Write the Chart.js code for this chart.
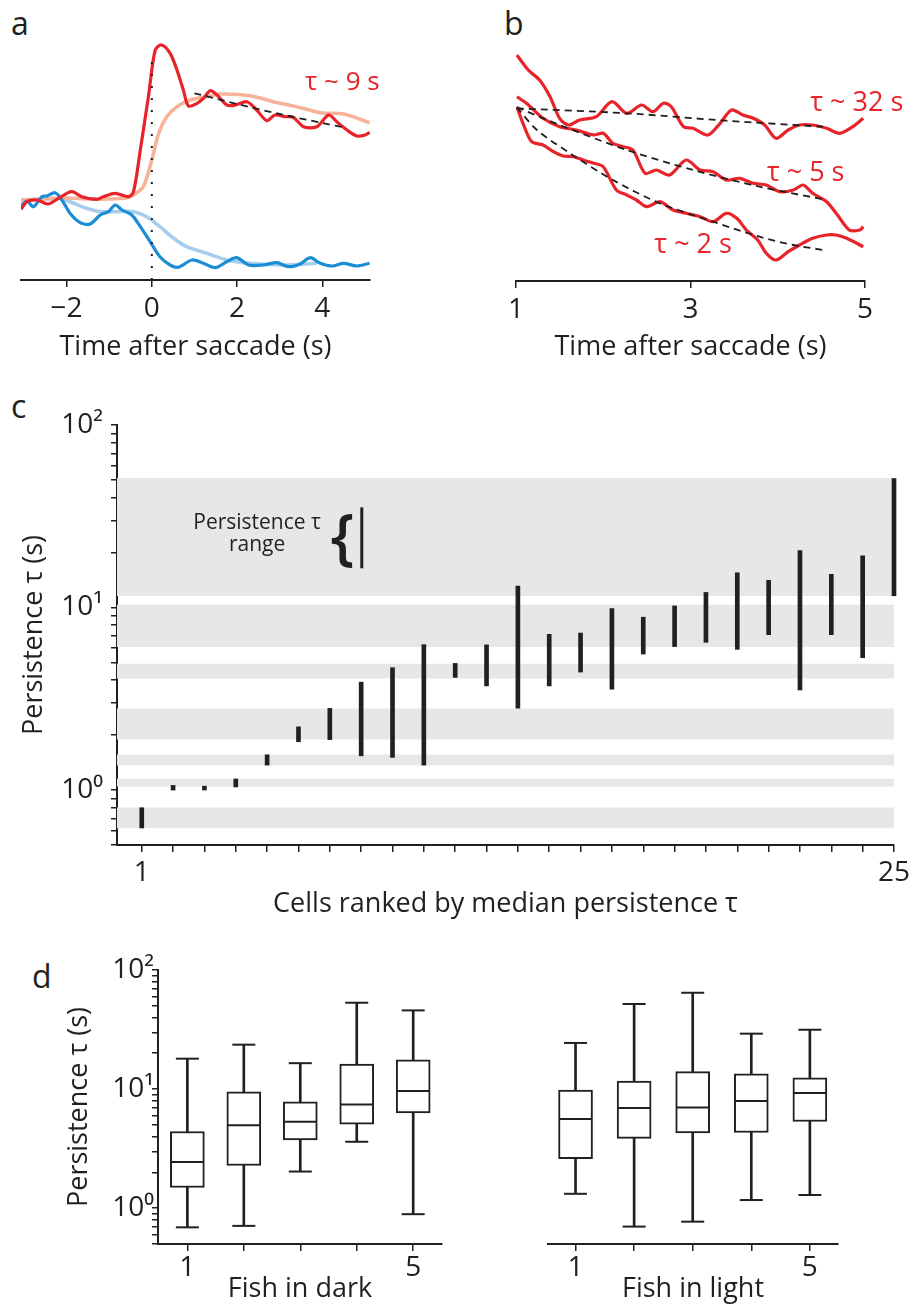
<!DOCTYPE html>
<html>
<head>
<meta charset="utf-8">
<script src="https://cdn.jsdelivr.net/npm/chart.js@4.4.1/dist/chart.umd.min.js"></script>
<style>
  body { margin: 0; background: #fff; }
  #fig { position: relative; width: 915px; height: 1306px; overflow: hidden; }
  #fig canvas { position: absolute; }
  .lbl { position: absolute; font: 32px 'Open Sans', sans-serif; line-height: 32px; color: #231f20; }
</style>
</head>
<body>
<div id="fig">
  <div class="lbl" style="left:11px;top:7px">a</div>
  <div class="lbl" style="left:504px;top:7px">b</div>
  <div class="lbl" style="left:11px;top:390px">c</div>
  <div class="lbl" style="left:32px;top:960px">d</div>
  <canvas id="chartA" width="457" height="380" style="left:0;top:0"></canvas>
  <canvas id="chartB" width="455" height="380" style="left:460px;top:0"></canvas>
  <canvas id="chartC" width="915" height="545" style="left:0;top:390px"></canvas>
  <canvas id="chartD1" width="460" height="371" style="left:0;top:935px"></canvas>
  <canvas id="chartD2" width="455" height="371" style="left:460px;top:935px"></canvas>
</div>
<script>
// ---- panel a: responses around a saccade (arbitrary units) ----
const aRedT = [-3.07,-2.93,-2.70,-2.43,-2.19,-1.88,-1.64,-1.29,-1.14,-0.86,-0.55,-0.43,-0.27,-0.08,0.08,0.23,0.43,0.59,0.74,0.86,1.06,1.21,1.37,1.53,1.76,1.96,2.23,2.46,2.70,2.89,3.13,3.32,3.56,3.87,4.15,4.34,4.58,4.81,5.01,5.11];
const aRedV = [70.7,78.3,80,76,81.7,88.3,83.3,80.7,83.3,86.7,83.3,88.3,130,183.3,230,235,226.7,210,190,174,176.7,181.7,189.3,185,175,175,178.3,170,159.3,165,163.3,162.7,153.3,153.3,165,158.3,150,144,145,147.7];
const aSalmonT = [-3.07,-2.5,-2.0,-1.5,-1.0,-0.6,-0.43,-0.2,0,0.16,0.35,0.59,0.9,1.29,1.6,2.31,2.85,3.4,3.95,4.5,5.11];
const aSalmonV = [80,81,82,81,81,82,85,93.3,120,146.7,163.3,173.3,180,183.3,186,184.3,178.3,173.3,167.3,166,157.3];
const aBlueT = [-3.07,-2.93,-2.78,-2.58,-2.46,-2.27,-2.11,-1.92,-1.68,-1.45,-1.21,-1.02,-0.86,-0.70,-0.47,-0.27,-0.04,0.19,0.43,0.62,0.94,1.21,1.49,1.76,1.99,2.27,2.62,2.93,3.21,3.48,3.72,3.95,4.23,4.5,4.81,5.11];
const aBlueV = [74,79,73.3,83.3,84,87.3,80,66.7,57.3,56,65,68.3,75,70,65,53.3,38.3,23.3,15,12.7,20,16.7,12.3,18.3,22.3,15,15,17.3,13.3,16,22.3,16.7,14,16.7,14,16.7];
const aLightBlueT = [-3.07,-2.6,-2.2,-1.92,-1.53,-1.21,-0.82,-0.43,-0.12,0.19,0.51,0.82,1.29,1.76,2.31,3.09,3.87];
const aLightBlueV = [80,81,81.7,78.3,71.7,68.3,68.3,68.3,63.3,53.3,41.7,33.3,26.7,20,16.7,15,16.7];
const aFitT = [1.0,2.0,3.0,4.0,4.5];
const aFitV = [186.7,176,166,157,152.7];
const aSaccadeT = [0, 0];
const aSaccadeV = [0, 222];
const aTicks = [-2, 0, 2, 4];

// ---- panel b: decays after saccade ----
const bSlowT = [1.01,1.14,1.27,1.39,1.50,1.60,1.73,1.92,2.10,2.27,2.44,2.57,2.69,2.78,2.92,3.03,3.20,3.34,3.47,3.60,3.72,3.85,3.98,4.12,4.25,4.40,4.56,4.71,4.86,4.98];
const bSlowV = [226,211,201,184.3,162.7,156,161,164.3,179.3,167.7,176,169.3,177.7,174.3,154.3,152.7,146,157.7,171,166,162.7,156,142.7,151,156,156,152.7,147.7,154.3,162.7];
const bMidT = [1.01,1.12,1.31,1.50,1.69,1.89,2.00,2.11,2.23,2.34,2.48,2.61,2.76,2.95,3.11,3.26,3.41,3.56,3.72,3.87,4.02,4.18,4.29,4.40,4.56,4.67,4.82,4.94,4.98];
const bMidV = [184.3,177.7,162.7,154.3,151,146,147.7,137.7,134.3,131,107.7,111,106,121,111,109.3,101,102.7,97.7,96,89.3,91,96,87.7,79.3,67.7,51,51,54.3];
const bFastT = [1.01,1.08,1.18,1.31,1.43,1.54,1.66,1.77,1.89,2.00,2.15,2.27,2.38,2.50,2.65,2.80,2.95,3.11,3.26,3.41,3.53,3.64,3.77,3.87,3.98,4.12,4.25,4.40,4.56,4.67,4.79,4.98];
const bFastV = [174.3,157.7,139.3,136,129.3,125,124.3,121,117.7,114.3,91,86,81,74.3,79.3,71,67.7,64.3,59.3,67.7,62.7,51,41,27.7,21,29.3,36,42.7,46,46,42.7,34.3];
const bFitSlowT = [1.01,2.27,3.41,4.52];
const bFitSlowV = [172.7,167.7,160.3,154.3];
const bFitMidT = [1.01,1.50,2.27,3.03,3.79,4.52];
const bFitMidV = [173.7,156,131,111,94.3,81.7];
const bFitFastT = [1.01,1.24,1.62,2.11,2.65,3.26,3.79,4.18,4.52];
const bFitFastV = [173.7,151,127.7,101,77.7,59.3,44.3,36,31];
const bTicks = [1, 3, 5];

// ---- panel c: persistence range per cell ----
const cellRank = [1,2,3,4,5,6,7,8,9,10,11,12,13,14,15,16,17,18,19,20,21,22,23,24,25];
const cellLo = [0.62,1.0,1.0,1.04,1.37,1.84,1.89,1.54,1.51,1.37,4.14,3.72,2.81,3.72,4.43,3.57,5.56,6.11,6.45,5.9,7.1,3.54,7.1,5.31,11.6];
const cellHi = [0.80,1.06,1.05,1.15,1.56,2.22,2.8,3.9,4.68,6.26,4.94,6.24,13.1,7.13,7.25,9.87,8.85,10.2,12.1,15.5,14.1,20.5,15.2,19.2,50.9];
const bandLo = [11.6,6.1,4.1,1.9,1.37,1.05,0.62];
const bandHi = [51,10.3,4.9,2.79,1.56,1.15,0.80];
const logTicks = [0.5,0.6,0.7,0.8,0.9,1,2,3,4,5,6,7,8,9,10,20,30,40,50,60,70,80,90,100];

// ---- panel d: persistence per fish ----
const fishNo = [1,2,3,4,5];
const darkMin = [0.69,0.71,2.03,3.61,0.89];
const darkQ1 = [1.49,2.28,3.75,5.08,6.32];
const darkMed = [2.44,4.98,5.31,7.42,9.62];
const darkQ3 = [4.40,9.49,7.82,16.2,17.6];
const darkMax = [18.0,23.6,16.5,53.1,45.8];
const lightMin = [1.32,0.70,0.77,1.17,1.29];
const lightQ1 = [2.60,3.85,4.29,4.32,5.34];
const lightMed = [5.60,6.92,7.0,7.93,9.25];
const lightQ3 = [9.81,11.7,14.0,13.4,12.4];
const lightMax = [24.4,51.8,64.4,29.2,31.5];

const INK = '#231f20';
const RED = '#e8232a';
const FONT = "'Open Sans', 'DejaVu Sans', sans-serif";

Chart.defaults.font.family = FONT;
Chart.defaults.color = INK;
Chart.defaults.animation = false;
Chart.defaults.events = [];
Chart.defaults.plugins.legend.display = false;
Chart.defaults.plugins.tooltip.enabled = false;

// text labels and the little legend glyph, placed in data coordinates
const annotate = {
  id: 'annotate',
  afterDatasetsDraw(chart, args, opts) {
    const ctx = chart.ctx;
    const sx = chart.scales.x, sy = chart.scales.y;
    (opts.items || []).forEach(it => {
      const px = sx.getPixelForValue(it.x);
      const py = sy.getPixelForValue(it.y);
      ctx.save();
      if (it.text) {
        ctx.font = it.font;
        ctx.fillStyle = it.color || INK;
        ctx.textAlign = 'center';
        ctx.textBaseline = 'middle';
        ctx.fillText(it.text, px, py);
      } else if (it.to) {
        ctx.strokeStyle = INK;
        ctx.lineWidth = it.width;
        ctx.beginPath();
        ctx.moveTo(px, py);
        ctx.lineTo(px, sy.getPixelForValue(it.to));
        ctx.stroke();
      }
      ctx.restore();
    });
  }
};

function pts(xs, ys) {
  return xs.map((x, i) => ({ x: x, y: ys[i] }));
}

function line(xs, ys, color, width, extra) {
  return Object.assign({
    type: 'line', data: pts(xs, ys), borderColor: color, borderWidth: width,
    pointRadius: 0, tension: 0.3, fill: false
  }, extra || {});
}

function bottomAxis(min, max, tickVals, labelFn, title, height, tickPad, titlePad) {
  return {
    type: 'linear', min: min, max: max, offset: false,
    afterBuildTicks: s => { s.ticks = tickVals.map(v => ({ value: v })); },
    afterFit: s => { s.height = height; },
    ticks: { autoSkip: false, maxRotation: 0, padding: tickPad, font: { size: 28 }, color: INK, callback: labelFn },
    grid: { display: true, drawOnChartArea: false, drawTicks: true, tickLength: 7, color: INK, lineWidth: 1.5, offset: false },
    border: { display: true, color: INK, width: 2 },
    title: { display: true, text: title, font: { size: 27 }, color: INK, padding: { top: 0, bottom: titlePad } }
  };
}

function logAxis(width, show, titlePad, tickPad) {
  return {
    type: 'logarithmic', min: 0.5, max: 100, display: show,
    afterBuildTicks: s => { s.ticks = logTicks.map(v => ({ value: v })); },
    afterFit: s => { s.width = width; },
    ticks: {
      autoSkip: false, padding: tickPad, font: { size: 28 }, color: INK,
      callback: v => v === 1 ? '10⁰' : v === 10 ? '10¹' : v === 100 ? '10²' : ''
    },
    grid: { display: true, drawOnChartArea: false, drawTicks: true, tickLength: 6, color: INK, lineWidth: 1.5 },
    border: { display: true, color: INK, width: 2 },
    title: { display: true, text: 'Persistence τ (s)', font: { size: 27 }, color: INK, padding: { top: titlePad, bottom: 0 } }
  };
}

// ---- panel a ----
new Chart(document.getElementById('chartA'), {
  type: 'line',
  data: {
    datasets: [
      line(aSaccadeT, aSaccadeV, INK, 2, { borderDash: [2, 10], tension: 0 }),
      line(aFitT, aFitV, INK, 1.8, { borderDash: [7, 5] }),
      line(aRedT, aRedV, RED, 3.2),
      line(aBlueT, aBlueV, '#1a8dd5', 3.2),
      line(aSalmonT, aSalmonV, '#f7b39a', 3.6),
      line(aLightBlueT, aLightBlueV, '#a7cdee', 3.6)
    ]
  },
  options: {
    responsive: false,
    layout: { padding: { left: 21, right: 87, top: 20, bottom: 0 } },
    scales: {
      x: bottomAxis(-3.07, 5.12, aTicks, v => String(v).replace('-', '−'), 'Time after saccade (s)', 100, 5, 16),
      y: { type: 'linear', min: 0, max: 260, display: false }
    },
    plugins: { annotate: { items: [{ text: 'τ ~ 9 s', x: 4.47, y: 197, color: RED, font: '26px ' + FONT }] } }
  },
  plugins: [annotate]
});

// ---- panel b ----
new Chart(document.getElementById('chartB'), {
  type: 'line',
  data: {
    datasets: [
      line(bFitSlowT, bFitSlowV, INK, 1.8, { borderDash: [7, 5] }),
      line(bFitMidT, bFitMidV, INK, 1.8, { borderDash: [7, 5] }),
      line(bFitFastT, bFitFastV, INK, 1.8, { borderDash: [7, 5] }),
      line(bSlowT, bSlowV, RED, 3.2),
      line(bMidT, bMidV, RED, 3.2),
      line(bFastT, bFastV, RED, 3.2)
    ]
  },
  options: {
    responsive: false,
    layout: { padding: { left: 56, right: 50, top: 21, bottom: 0 } },
    scales: {
      x: bottomAxis(1, 5, bTicks, v => String(v), 'Time after saccade (s)', 99, 5, 16),
      y: { type: 'linear', min: 0, max: 260, display: false }
    },
    plugins: { annotate: { items: [
      { text: 'τ ~ 32 s', x: 4.906, y: 178, color: RED, font: '27px ' + FONT },
      { text: 'τ ~ 5 s', x: 4.32, y: 108, color: RED, font: '27px ' + FONT },
      { text: 'τ ~ 2 s', x: 3.03, y: 36, color: RED, font: '27px ' + FONT }
    ] } }
  },
  plugins: [annotate]
});

// ---- panel c ----
const bandSets = bandLo.map((lo, i) => ({
  type: 'bar', xAxisID: 'xb', data: [[lo, bandHi[i]]], backgroundColor: '#e6e7e8',
  barPercentage: 1, categoryPercentage: 1, grouped: false, order: 5
}));
new Chart(document.getElementById('chartC'), {
  type: 'bar',
  data: {
    labels: ['band'],
    datasets: [{
      type: 'bar', xAxisID: 'x', data: cellRank.map((r, i) => ({ x: r, y: [cellLo[i], cellHi[i]] })),
      backgroundColor: INK, barThickness: 4, grouped: false, order: 1, clip: false
    }].concat(bandSets)
  },
  options: {
    responsive: false,
    layout: { padding: { left: 0, right: 21, top: 35, bottom: 0 } },
    scales: {
      x: bottomAxis(0.21, 25, cellRank, v => (v === 1 || v === 25) ? String(v) : '', 'Cells ranked by median persistence τ', 90, 4, 14),
      xb: { type: 'category', labels: ['band'], display: false, offset: true, grid: { offset: true } },
      y: logAxis(117, true, 18, 8)
    },
    plugins: { annotate: { items: [
      { text: 'Persistence τ', x: 4.68, y: 28.9, font: '21px ' + FONT },
      { text: 'range', x: 4.68, y: 21.9, font: '21px ' + FONT },
      { text: '{', x: 7.4, y: 23.2, font: '600 62px ' + FONT },
      { x: 8.02, y: 35.4, to: 16.4, width: 3 }
    ] } }
  },
  plugins: [annotate]
});

// ---- panel d ----
function boxSets(mins, q1s, meds, q3s, maxs) {
  return [
    { type: 'scatter', data: pts(fishNo, meds), pointStyle: 'line', pointRadius: 16, pointBorderWidth: 2, pointBorderColor: INK, order: 0 },
    { type: 'scatter', data: pts(fishNo, maxs), pointStyle: 'line', pointRadius: 11.5, pointBorderWidth: 2, pointBorderColor: INK, order: 0 },
    { type: 'scatter', data: pts(fishNo, mins), pointStyle: 'line', pointRadius: 11.5, pointBorderWidth: 2, pointBorderColor: INK, order: 0 },
    { type: 'bar', data: fishNo.map((f, i) => ({ x: f, y: [q1s[i], q3s[i]] })), backgroundColor: '#fff', borderColor: INK,
      borderWidth: 2, borderSkipped: false, barThickness: 34, grouped: false, order: 1 },
    { type: 'bar', data: fishNo.map((f, i) => ({ x: f, y: [mins[i], maxs[i]] })), backgroundColor: INK,
      barThickness: 2, grouped: false, order: 2 }
  ];
}
const fishLabel = v => (v === 1 || v === 5) ? String(v) : '';

new Chart(document.getElementById('chartD1'), {
  type: 'bar',
  data: { datasets: boxSets(darkMin, darkQ1, darkMed, darkQ3, darkMax) },
  options: {
    responsive: false,
    layout: { padding: { left: 0, right: 8, top: 35, bottom: 0 } },
    scales: {
      x: bottomAxis(0.48, 5.51, fishNo, fishLabel, 'Fish in dark', 62, 0, 0),
      y: logAxis(158, true, 63, -2)
    }
  }
});

new Chart(document.getElementById('chartD2'), {
  type: 'bar',
  data: { datasets: boxSets(lightMin, lightQ1, lightMed, lightQ3, lightMax) },
  options: {
    responsive: false,
    layout: { padding: { left: 88, right: 77, top: 35, bottom: 0 } },
    scales: {
      x: bottomAxis(0.53, 5.48, fishNo, fishLabel, 'Fish in light', 62, 0, 0),
      y: logAxis(0, false, 0, 0)
    }
  }
});
</script>
</body>
</html>
